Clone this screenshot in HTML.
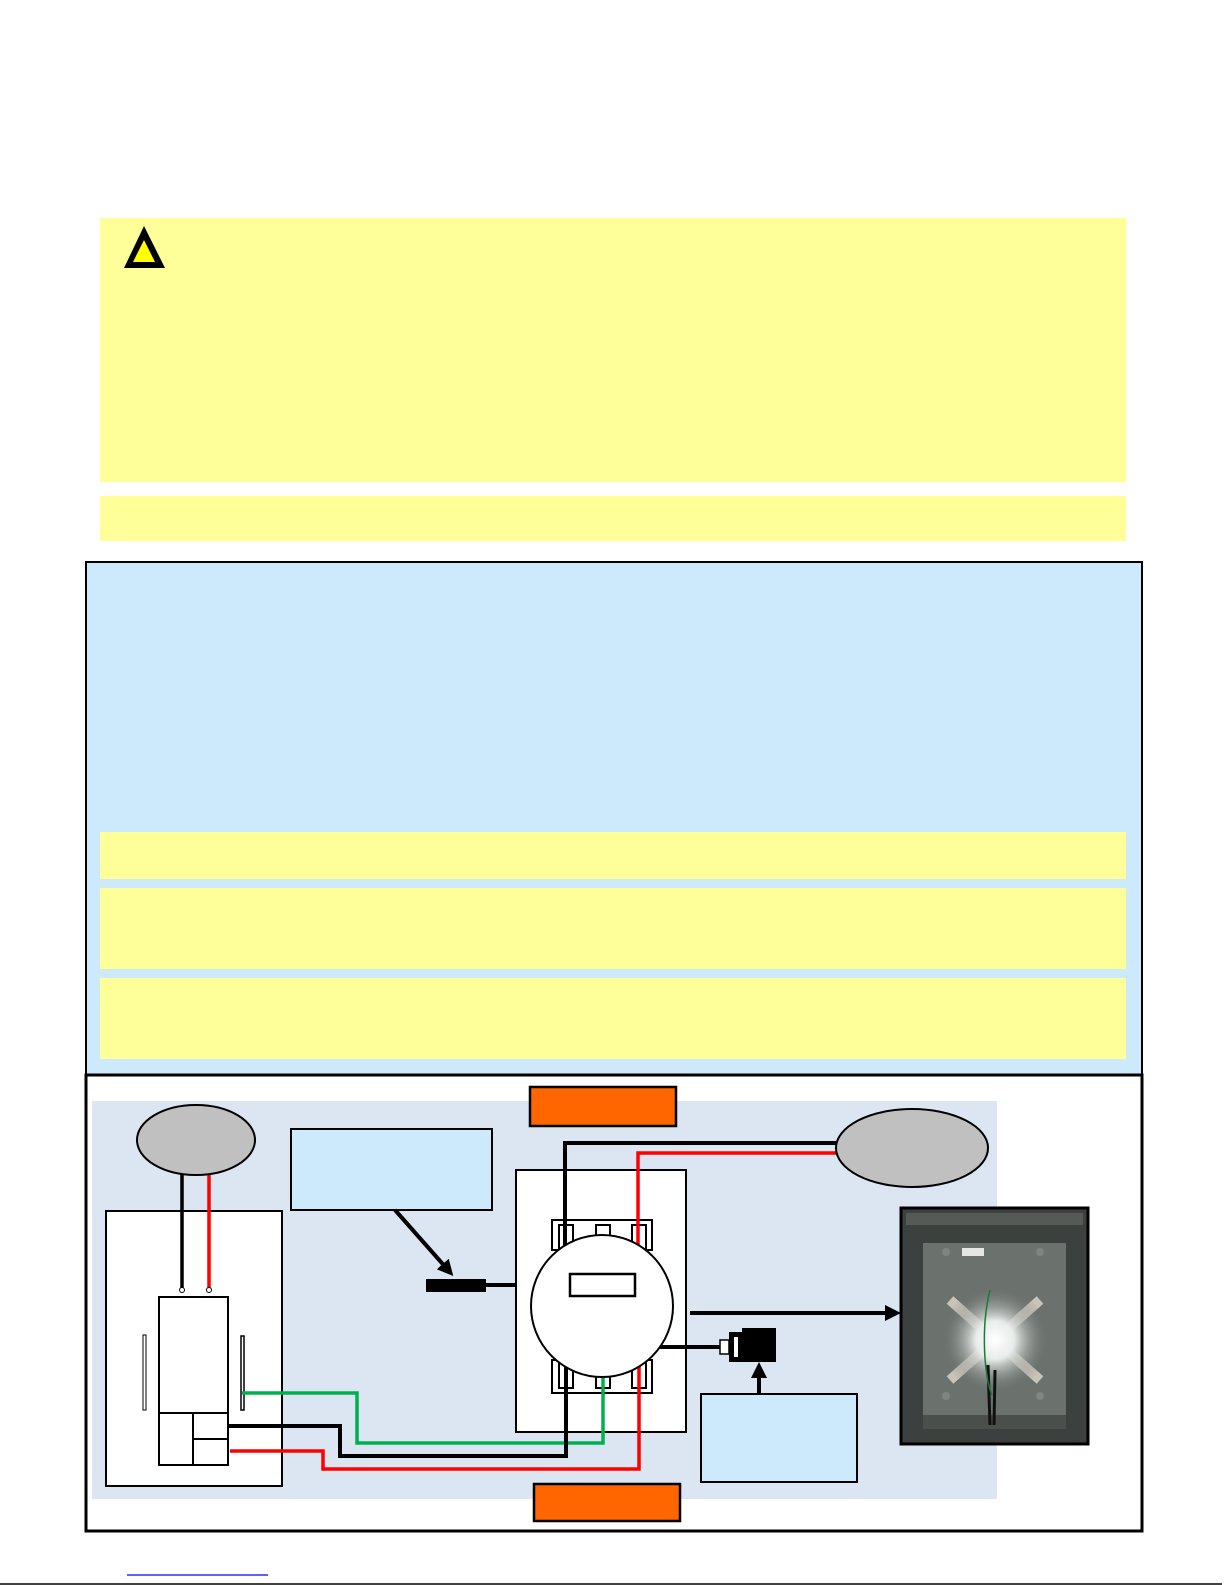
<!DOCTYPE html>
<html><head><meta charset="utf-8"><style>
html,body{margin:0;padding:0;background:#fff;}
svg{display:block;}
</style></head><body>
<svg width="1225" height="1585" viewBox="0 0 1225 1585" xmlns="http://www.w3.org/2000/svg">
<defs>
<marker id="ah" markerWidth="16" markerHeight="16" refX="8" refY="8" orient="auto" markerUnits="userSpaceOnUse" viewBox="0 0 16 16">
<path d="M0,0 L16,8 L0,16 z" fill="#000"/></marker>
<radialGradient id="glow" cx="0.5" cy="0.5" r="0.5">
<stop offset="0" stop-color="#fff"/><stop offset="0.35" stop-color="#e8ecea"/><stop offset="1" stop-color="#5f6662" stop-opacity="0"/></radialGradient>
</defs>
<rect x="100" y="218" width="1026" height="264" fill="#ffff99"/>
<polygon points="144,226 124,268 165,268" fill="#000"/>
<polygon points="144,240 133,262 155,262" fill="#ffff00"/>
<rect x="100" y="496" width="1026" height="45" fill="#ffff99"/>
<rect x="86" y="562" width="1056" height="513" fill="#cdeafc" stroke="#000" stroke-width="2"/>
<rect x="100" y="832" width="1026" height="47" fill="#ffff99"/>
<rect x="100" y="888" width="1026" height="81" fill="#ffff99"/>
<rect x="100" y="978" width="1026" height="81" fill="#ffff99"/>
<rect x="86" y="1075" width="1056" height="456" fill="#fff" stroke="#000" stroke-width="3"/>
<rect x="92" y="1101" width="905" height="398" fill="#dce6f2"/>
<rect x="530" y="1087" width="146" height="39" fill="#ff6600" stroke="#000" stroke-width="2.5"/>
<rect x="534" y="1484" width="146" height="37" fill="#ff6600" stroke="#000" stroke-width="2.5"/>
<rect x="106" y="1211" width="176" height="275" fill="#fff" stroke="#000" stroke-width="2"/>
<line x1="182" y1="1170" x2="182" y2="1289" stroke="#000" stroke-width="3.5"/>
<line x1="209" y1="1170" x2="209" y2="1289" stroke="#f00" stroke-width="3.5"/>
<circle cx="182" cy="1290" r="2.5" fill="#fff" stroke="#000" stroke-width="1"/>
<circle cx="209" cy="1290" r="2.5" fill="#fff" stroke="#000" stroke-width="1"/>
<ellipse cx="196" cy="1140" rx="59" ry="35" fill="#c0c0c0" stroke="#000" stroke-width="2"/>
<rect x="159" y="1297" width="69" height="168" fill="#fff" stroke="#000" stroke-width="2"/>
<line x1="159" y1="1413" x2="228" y2="1413" stroke="#000" stroke-width="2"/>
<line x1="193" y1="1413" x2="193" y2="1465" stroke="#000" stroke-width="2"/>
<line x1="193" y1="1439" x2="228" y2="1439" stroke="#000" stroke-width="2"/>
<rect x="143" y="1335" width="3" height="75" fill="#fff" stroke="#000" stroke-width="1"/>
<rect x="241" y="1336" width="3" height="74" fill="#fff" stroke="#000" stroke-width="1.5"/>
<rect x="291" y="1129" width="201" height="81" fill="#cdeafc" stroke="#000" stroke-width="2"/>
<line x1="395" y1="1210" x2="448" y2="1270" stroke="#000" stroke-width="4" marker-end="url(#ah)"/>
<rect x="426" y="1279" width="60" height="13" fill="#000"/>
<line x1="486" y1="1285" x2="535" y2="1285" stroke="#000" stroke-width="4"/>
<rect x="516" y="1170" width="170" height="262" fill="#fff" stroke="#000" stroke-width="2"/>
<rect x="552" y="1220" width="100" height="30" fill="#fff" stroke="#000" stroke-width="2"/>
<rect x="552" y="1360" width="100" height="33" fill="#fff" stroke="#000" stroke-width="2"/>
<rect x="559" y="1225" width="14" height="30" fill="#fff" stroke="#000" stroke-width="2"/>
<rect x="596" y="1225" width="14" height="20" fill="#fff" stroke="#000" stroke-width="2"/>
<rect x="632" y="1225" width="14" height="30" fill="#fff" stroke="#000" stroke-width="2"/>
<rect x="559" y="1360" width="14" height="28" fill="#fff" stroke="#000" stroke-width="2"/>
<rect x="596" y="1368" width="14" height="20" fill="#fff" stroke="#000" stroke-width="2"/>
<rect x="632" y="1360" width="14" height="28" fill="#fff" stroke="#000" stroke-width="2"/>
<polyline points="565,1249 565,1143 836,1143" fill="none" stroke="#000" stroke-width="4"/>
<polyline points="638,1246 638,1153 836,1153" fill="none" stroke="#f00" stroke-width="3.5"/>
<polyline points="242,1393 357,1393 357,1443 603,1443 603,1376" fill="none" stroke="#00b050" stroke-width="3.5"/>
<polyline points="228,1426 340,1426 340,1456 566,1456 566,1367" fill="none" stroke="#000" stroke-width="4"/>
<polyline points="230,1451 323,1451 323,1469 639,1469 639,1366" fill="none" stroke="#f00" stroke-width="3.5"/>
<circle cx="602" cy="1306" r="71" fill="#fff" stroke="#000" stroke-width="2"/>
<rect x="570" y="1274" width="65" height="22" fill="#fff" stroke="#000" stroke-width="2.5"/>
<line x1="660" y1="1347" x2="720" y2="1347" stroke="#000" stroke-width="4"/>
<line x1="690" y1="1313" x2="893" y2="1313" stroke="#000" stroke-width="4" marker-end="url(#ah)"/>
<rect x="720" y="1340" width="9" height="14" fill="#fff" stroke="#000" stroke-width="1.5"/>
<rect x="729" y="1332" width="13" height="30" fill="#000"/>
<rect x="734" y="1337" width="4" height="20" fill="#fff"/>
<rect x="742" y="1328" width="34" height="34" fill="#000"/>
<line x1="759" y1="1394" x2="759" y2="1370" stroke="#000" stroke-width="4" marker-end="url(#ah)"/>
<rect x="701" y="1394" width="156" height="88" fill="#cdeafc" stroke="#000" stroke-width="2"/>
<ellipse cx="912" cy="1148" rx="76" ry="39" fill="#c0c0c0" stroke="#000" stroke-width="2"/>
<rect x="901" y="1208" width="187" height="236" fill="#3c403e" stroke="#000" stroke-width="3"/>
<rect x="906" y="1213" width="177" height="12" fill="#555a57"/>
<rect x="923" y="1243" width="143" height="172" fill="#6b716d"/>
<rect x="923" y="1415" width="143" height="14" fill="#4a4f4c"/>
<path d="M950,1300 L1040,1380 M1040,1300 L950,1380" stroke="#c9c4b8" stroke-width="10"/>
<ellipse cx="995" cy="1340" rx="55" ry="55" fill="url(#glow)"/>
<rect x="962" y="1248" width="22" height="8" fill="#e6e6e6"/>
<circle cx="946" cy="1252" r="4" fill="#80857f"/><circle cx="1040" cy="1252" r="4" fill="#80857f"/>
<circle cx="946" cy="1396" r="4" fill="#80857f"/><circle cx="1040" cy="1396" r="4" fill="#80857f"/>
<path d="M988,1365 L990,1425 M995,1370 L994,1425" stroke="#111" stroke-width="3"/>
<path d="M990,1290 C980,1330 985,1380 992,1395" stroke="#1a7a3a" stroke-width="1.5" fill="none"/>
<line x1="127" y1="1575" x2="268" y2="1575" stroke="#0000ff" stroke-width="1.3"/>
<line x1="0" y1="1584" x2="1222" y2="1584" stroke="#000" stroke-width="1.5"/>
</svg>
</body></html>
